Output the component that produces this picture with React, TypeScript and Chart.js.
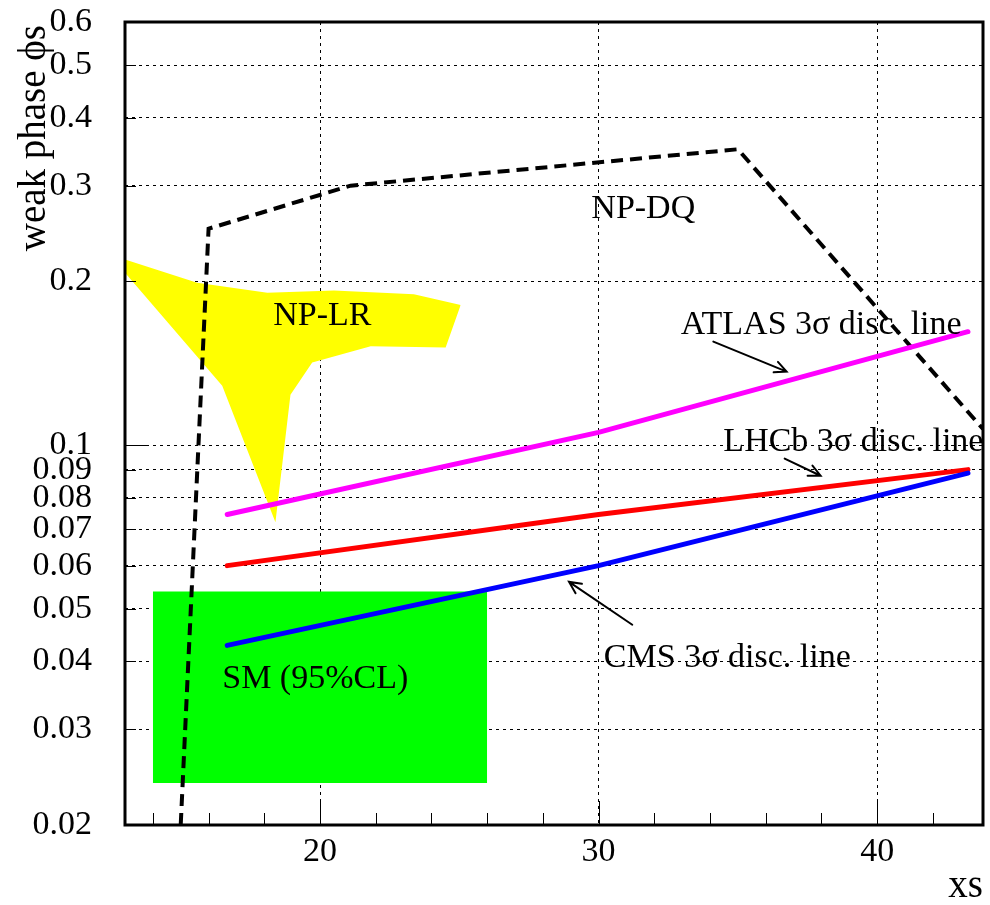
import React, { useEffect, useRef } from "react";
import { Chart, registerables } from "chart.js";

Chart.register(...registerables);

// ---- axes ----
const xRange = [13, 43.8];
const yRange = [0.02, 0.6];
const xTickValues = [20, 30, 40];
const xTickLabels = ["20", "30", "40"];
const xMinorTickValues = [14, 16, 18, 22, 24, 26, 28, 32, 34, 36, 38, 42];
const yTickValues = [0.02, 0.03, 0.04, 0.05, 0.06, 0.07, 0.08, 0.09, 0.1, 0.2, 0.3, 0.4, 0.5, 0.6];
const yTickLabels = ["0.02", "0.03", "0.04", "0.05", "0.06", "0.07", "0.08", "0.09", "0.1", "0.2", "0.3", "0.4", "0.5", "0.6"];
const yMajorTickValues = [0.1];
const xTitle = "xs";
const yTitle = "weak phase \u03D5s";

// ---- SM (95%CL) box ----
const smBoxX = [14, 26];
const smBoxTop = [0.0538, 0.0538];
const smBoxBottom = 0.0239;

// ---- NP-LR region ----
const npLrUpperX = [13, 15.59, 18.11, 20.5, 23.37, 25.05];
const npLrUpperY = [0.2195, 0.1988, 0.1905, 0.1925, 0.1893, 0.1809];
const npLrLowerX = [13, 16.49, 18.4, 18.94, 19.72, 21.82, 24.51, 25.05];
const npLrLowerY = [0.2074, 0.1285, 0.0721, 0.1237, 0.1418, 0.152, 0.1511, 0.1809];

// ---- NP-DQ boundary ----
const npDqX = [15.0, 16.0, 21.1, 35.0, 43.8];
const npDqY = [0.02, 0.25, 0.3, 0.35, 0.107];

// ---- discovery lines ----
const atlasX = [16.67, 30, 43.26];
const atlasY = [0.0745, 0.1055, 0.1616];
const lhcbX = [16.67, 30, 43.26];
const lhcbY = [0.06, 0.0745, 0.0901];
const cmsX = [16.67, 30, 43.26];
const cmsY = [0.0428, 0.06, 0.0888];

// ---- annotations ----
const annotationTexts = ["NP-DQ", "NP-LR", "ATLAS 3\u03C3 disc. line", "LHCb 3\u03C3 disc. line", "CMS 3\u03C3 disc. line", "SM (95%CL)"];
const annotationX = [29.74, 18.32, 32.95, 34.48, 30.19, 16.49];
const annotationY = [0.2617, 0.1663, 0.1602, 0.0976, 0.0391, 0.0358];

const arrowFromX = [34.12, 36.68, 31.21];
const arrowFromY = [0.155, 0.0944, 0.0467];
const arrowToX = [36.75, 37.97, 28.94];
const arrowToY = [0.1365, 0.0878, 0.056];

const FONT = '"Liberation Serif", "Times New Roman", serif';

const pts = (xs: number[], ys: number[]) => xs.map((x, i) => ({ x, y: ys[i] }));

const overlayPlugin = {
  id: "rootOverlay",
  afterDatasetsDraw(chart: any) {
    const { ctx, chartArea: a } = chart;
    const sx = chart.scales.x;
    const sy = chart.scales.y;
    ctx.save();
    ctx.setLineDash([]);
    ctx.strokeStyle = "#000";
    ctx.lineWidth = 1;
    ctx.beginPath();
    for (const v of xTickValues) {
      const px = Math.round(sx.getPixelForValue(v)) + 0.5;
      ctx.moveTo(px, a.bottom);
      ctx.lineTo(px, a.bottom - 24);
    }
    for (const v of xMinorTickValues) {
      const px = Math.round(sx.getPixelForValue(v)) + 0.5;
      ctx.moveTo(px, a.bottom);
      ctx.lineTo(px, a.bottom - 12);
    }
    for (const v of yTickValues) {
      const py = Math.round(sy.getPixelForValue(v)) + 0.5;
      const len = yMajorTickValues.includes(v) ? 23 : 11;
      ctx.moveTo(a.left, py);
      ctx.lineTo(a.left + len, py);
    }
    ctx.stroke();

    // arrows
    ctx.lineWidth = 2;
    ctx.lineCap = "round";
    for (let i = 0; i < arrowFromX.length; i++) {
      const x1 = sx.getPixelForValue(arrowFromX[i]);
      const y1 = sy.getPixelForValue(arrowFromY[i]);
      const x2 = sx.getPixelForValue(arrowToX[i]);
      const y2 = sy.getPixelForValue(arrowToY[i]);
      const ang = Math.atan2(y2 - y1, x2 - x1);
      const hl = 13;
      const spread = 0.45;
      ctx.beginPath();
      ctx.moveTo(x1, y1);
      ctx.lineTo(x2, y2);
      ctx.moveTo(x2 - hl * Math.cos(ang - spread), y2 - hl * Math.sin(ang - spread));
      ctx.lineTo(x2, y2);
      ctx.lineTo(x2 - hl * Math.cos(ang + spread), y2 - hl * Math.sin(ang + spread));
      ctx.stroke();
    }

    // frame
    ctx.lineCap = "butt";
    ctx.lineWidth = 3;
    ctx.strokeRect(a.left, a.top, a.right - a.left, a.bottom - a.top);

    // annotations
    ctx.fillStyle = "#000";
    ctx.font = `34px ${FONT}`;
    ctx.textAlign = "left";
    ctx.textBaseline = "alphabetic";
    for (let i = 0; i < annotationTexts.length; i++) {
      ctx.fillText(annotationTexts[i], sx.getPixelForValue(annotationX[i]), sy.getPixelForValue(annotationY[i]));
    }

    // axis titles
    ctx.font = `39px ${FONT}`;
    ctx.textAlign = "right";
    ctx.fillText(xTitle, a.right, chart.height - 8);
    ctx.translate(a.left - 80, a.top + 3);
    ctx.rotate(-Math.PI / 2);
    ctx.fillText(yTitle, 0, 0);
    ctx.restore();
  },
};

export default function App() {
  const ref = useRef<HTMLCanvasElement | null>(null);
  useEffect(() => {
    if (!ref.current) return;
    const lineBase = { showLine: true, pointRadius: 0, pointHoverRadius: 0, tension: 0 };
    const chart = new Chart(ref.current, {
      type: "scatter",
      data: {
        datasets: [
          {
            ...lineBase,
            label: "SM (95%CL)",
            data: pts(smBoxX, smBoxTop),
            borderColor: "rgba(0,0,0,0)",
            borderWidth: 0,
            backgroundColor: "#00ff00",
            fill: { value: smBoxBottom },
            order: 10,
          },
          {
            ...lineBase,
            label: "NP-LR upper",
            data: pts(npLrUpperX, npLrUpperY),
            borderColor: "rgba(0,0,0,0)",
            borderWidth: 0,
            backgroundColor: "#ffff00",
            fill: "+1",
            order: 9,
          },
          {
            ...lineBase,
            label: "NP-LR lower",
            data: pts(npLrLowerX, npLrLowerY),
            borderColor: "rgba(0,0,0,0)",
            borderWidth: 0,
            fill: false,
            order: 8,
          },
          {
            ...lineBase,
            label: "NP-DQ",
            data: pts(npDqX, npDqY),
            borderColor: "#000000",
            borderWidth: 4,
            borderDash: [12, 7],
            fill: false,
            order: 5,
          },
          {
            ...lineBase,
            label: "ATLAS",
            data: pts(atlasX, atlasY),
            borderColor: "#ff00ff",
            borderWidth: 5,
            borderCapStyle: "round",
            fill: false,
            order: 3,
          },
          {
            ...lineBase,
            label: "LHCb",
            data: pts(lhcbX, lhcbY),
            borderColor: "#ff0000",
            borderWidth: 5,
            borderCapStyle: "round",
            fill: false,
            order: 2,
          },
          {
            ...lineBase,
            label: "CMS",
            data: pts(cmsX, cmsY),
            borderColor: "#0000ff",
            borderWidth: 5,
            borderCapStyle: "round",
            fill: false,
            order: 1,
          },
        ],
      } as any,
      options: {
        animation: false,
        responsive: false,
        maintainAspectRatio: false,
        layout: { padding: { top: 22, right: 7, left: 0, bottom: 0 } },
        plugins: { legend: { display: false }, tooltip: { enabled: false } },
        events: [],
        scales: {
          x: {
            type: "linear",
            min: xRange[0],
            max: xRange[1],
            afterBuildTicks: (scale: any) => {
              scale.ticks = xTickValues.map((v) => ({ value: v }));
            },
            afterFit: (scale: any) => {
              scale.height = 80;
              scale.paddingLeft = 0;
              scale.paddingRight = 0;
              scale.paddingTop = 0;
              scale.paddingBottom = 0;
            },
            ticks: {
              autoSkip: false,
              maxRotation: 0,
              padding: 10,
              color: "#000",
              font: { family: FONT, size: 34, lineHeight: 1 },
              callback: (_v: any, i: number) => xTickLabels[i],
            },
            grid: { color: "#000", lineWidth: 1, drawTicks: false },
            border: { display: false, dash: [3, 4] },
          },
          y: {
            type: "logarithmic",
            min: yRange[0],
            max: yRange[1],
            afterBuildTicks: (scale: any) => {
              scale.ticks = yTickValues.map((v) => ({ value: v }));
            },
            afterFit: (scale: any) => {
              scale.width = 125;
              scale.paddingLeft = 0;
              scale.paddingRight = 0;
              scale.paddingTop = 0;
              scale.paddingBottom = 0;
            },
            ticks: {
              autoSkip: false,
              padding: 33,
              color: "#000",
              font: { family: FONT, size: 34, lineHeight: 1 },
              callback: (_v: any, i: number) => yTickLabels[i],
            },
            grid: { color: "#000", lineWidth: 1, drawTicks: false },
            border: { display: false, dash: [3, 4] },
          },
        },
      } as any,
      plugins: [overlayPlugin],
    });
    return () => chart.destroy();
  }, []);

  return (
    <div style={{ position: "absolute", left: 0, top: 0, width: 990, height: 905, background: "#fff" }}>
      <canvas ref={ref} width={990} height={905} style={{ display: "block" }} />
    </div>
  );
}
